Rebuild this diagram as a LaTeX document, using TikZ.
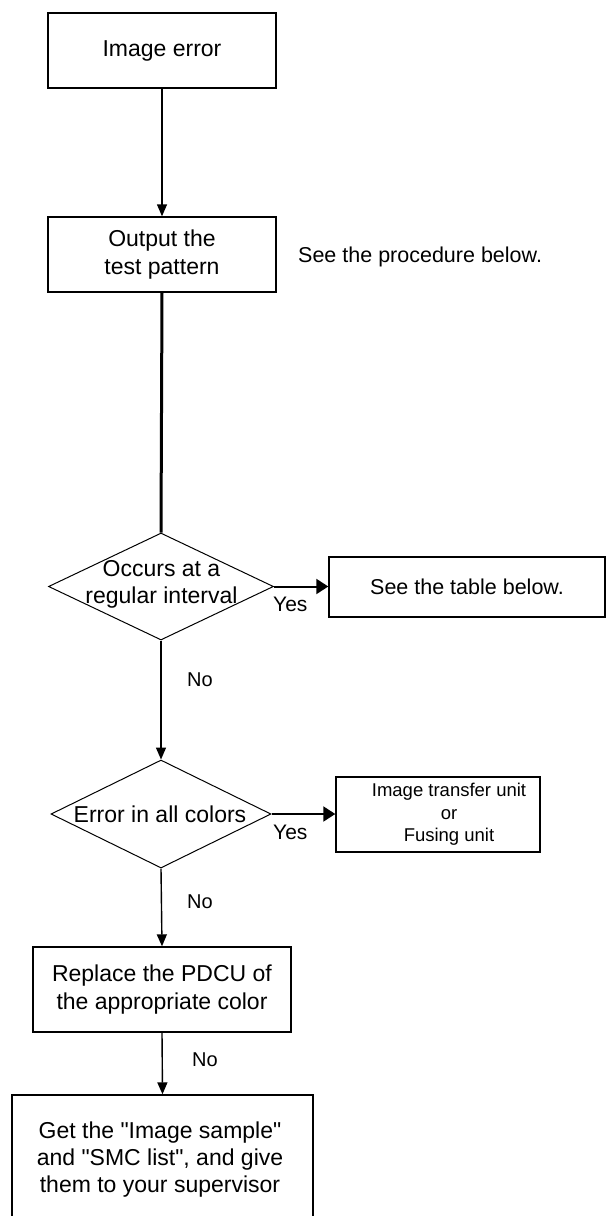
\documentclass[tikz,border=0pt]{standalone}
\usepackage{fontspec}
\setmainfont{Liberation Sans}
\usetikzlibrary{shapes.geometric,arrows.meta}
\begin{document}
\begin{tikzpicture}[x=1pt,y=-1pt,
  boxnode/.style={draw=black,line width=1.4pt,inner sep=0pt,align=center,font=\fontsize{23}{28}\selectfont},
  decision/.style={draw=black,line width=1pt,diamond,inner sep=0pt},
  txt/.style={inner sep=0pt,align=center,font=\fontsize{23}{27}\selectfont},
  side/.style={inner sep=0pt,font=\fontsize{21.5}{26}\selectfont},
  small/.style={inner sep=0pt,align=center,font=\fontsize{18.5}{22.5}\selectfont},
  lbl/.style={inner sep=0pt,font=\fontsize{21}{24}\selectfont},
  nolbl/.style={inner sep=0pt,font=\fontsize{20}{24}\selectfont},
  conn/.style={draw=black,line width=1.4pt,-{Triangle[width=10pt,length=12pt]}},
  thickline/.style={draw=black,line width=3pt},
  yesarrow/.style={draw=black,line width=2pt,-{Triangle[width=15pt,length=12pt]}}]
\useasboundingbox (0,0) rectangle (606,1216);
% boxes
\node[boxnode,minimum width=228pt,minimum height=75pt] (b1) at (162,50.5) {Image error};
\node[boxnode,minimum width=228pt,minimum height=75pt] (b2) at (162,254.5) {Output the\\test pattern};
\node[side,anchor=west] (proc) at (298,257) {See the procedure below.};
\node[decision,minimum width=225pt,minimum height=107pt] (d1) at (161,586.5) {};
\node[txt] (d1t) at (161.5,584) {Occurs at a\\regular interval};
\node[boxnode,minimum width=276pt,minimum height=60pt,font=\fontsize{21.5}{26}\selectfont] (tbl) at (467,587) {See the table below.};
\node[decision,minimum width=220pt,minimum height=108pt] (d2) at (161,814) {};
\node[txt] (d2t) at (160,814) {Error in all colors};
\node[boxnode,minimum width=204pt,minimum height=75pt] (tr) at (438,814.5) {};
\node[small] (trt) at (449,814.5) {Image transfer unit\\or\\Fusing unit};
\node[boxnode,minimum width=258pt,minimum height=85pt] (pd) at (162,989.5) {Replace the PDCU of\\the appropriate color};
\node[boxnode,minimum width=301pt,minimum height=135pt] (fb) at (162.5,1162.5) {};
\node[txt] (fbt) at (160,1159.5) {Get the \textquotedbl Image sample\textquotedbl\\and \textquotedbl SMC list\textquotedbl, and give\\them to your supervisor};
% connectors
\draw[conn] (b1.south) -- (b2.north);
\draw[thickline] (b2.south) -- (d1.north);
\draw[yesarrow] (d1.east) -- (d1.east -| tbl.west);
\draw[conn] (d1.south) -- (d2.north);
\draw[yesarrow] (d2.east) -- (d2.east -| tr.west);
\draw[conn] (d2.south) -- (pd.north);
\draw[conn] (pd.south) -- (fb.north);
% labels
\node[lbl,anchor=west] (y1) at (273,604) {Yes};
\node[lbl,anchor=west] (y2) at (273,832) {Yes};
\node[nolbl] (n1) at (200,680) {No};
\node[nolbl] (n2) at (200,902) {No};
\node[nolbl] (n3) at (205,1060) {No};
\end{tikzpicture}
\end{document}
